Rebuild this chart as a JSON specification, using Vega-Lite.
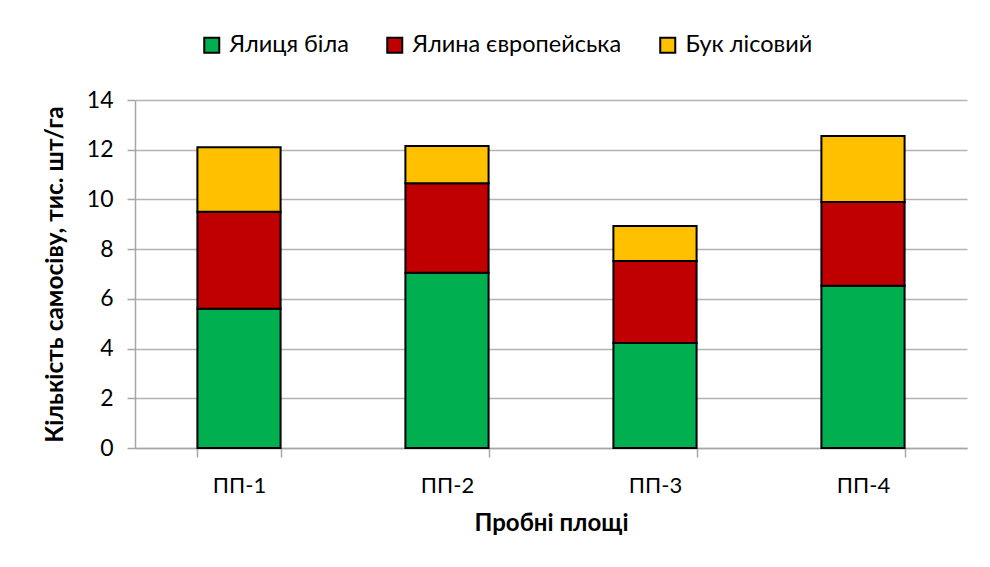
{
  "$schema": "https://vega.github.io/schema/vega-lite/v6.json",
  "autosize": "none",
  "width": 832,
  "height": 348,
  "padding": {"left": 135, "top": 100, "right": 23, "bottom": 119},
  "background": "white",
  "config": {
    "font": "Lato",
    "view": {"stroke": null},
    "axis": {"labelFont": "Lato", "titleFont": "Lato", "labelColor": "#000", "titleColor": "#000"}
  },
  "data": {
    "values": [
      {"plot": "ПП-1", "species": "Ялиця біла", "ord": 1, "value": 5.6},
      {"plot": "ПП-1", "species": "Ялина європейська", "ord": 2, "value": 3.9},
      {"plot": "ПП-1", "species": "Бук лісовий", "ord": 3, "value": 2.6},
      {"plot": "ПП-2", "species": "Ялиця біла", "ord": 1, "value": 7.05},
      {"plot": "ПП-2", "species": "Ялина європейська", "ord": 2, "value": 3.6},
      {"plot": "ПП-2", "species": "Бук лісовий", "ord": 3, "value": 1.5},
      {"plot": "ПП-3", "species": "Ялиця біла", "ord": 1, "value": 4.22},
      {"plot": "ПП-3", "species": "Ялина європейська", "ord": 2, "value": 3.3},
      {"plot": "ПП-3", "species": "Бук лісовий", "ord": 3, "value": 1.41},
      {"plot": "ПП-4", "species": "Ялиця біла", "ord": 1, "value": 6.53},
      {"plot": "ПП-4", "species": "Ялина європейська", "ord": 2, "value": 3.37},
      {"plot": "ПП-4", "species": "Бук лісовий", "ord": 3, "value": 2.65}
    ]
  },
  "mark": {"type": "bar", "stroke": "#000", "strokeWidth": 2},
  "encoding": {
    "x": {
      "field": "plot",
      "type": "nominal",
      "scale": {"paddingInner": 0.6, "paddingOuter": 0.3},
      "axis": {
        "title": "Пробні площі",
        "titleFontSize": 24,
        "titleFontWeight": "bold",
        "titlePadding": 15,
        "labelAngle": 0,
        "labelFontSize": 22,
        "labelPadding": 18,
        "tickBand": "extent",
        "tickSize": 9,
        "tickColor": "#a6a6a6",
        "domainColor": "#a6a6a6",
        "domainWidth": 1.5,
        "tickWidth": 1.5
      }
    },
    "y": {
      "field": "value",
      "type": "quantitative",
      "stack": "zero",
      "scale": {"domain": [0, 14]},
      "axis": {
        "title": "Кількість самосіву, тис. шт/га",
        "titleFontSize": 24.5,
        "titleFontWeight": "bold",
        "titlePadding": 19,
        "values": [0, 2, 4, 6, 8, 10, 12, 14],
        "labelFontSize": 23,
        "labelPadding": 14,
        "tickSize": 8,
        "tickColor": "#a6a6a6",
        "domainColor": "#a6a6a6",
        "domainWidth": 1.5,
        "tickWidth": 1.5,
        "gridColor": "#b3b3b3",
        "gridWidth": 1.5
      }
    },
    "color": {
      "field": "species",
      "type": "nominal",
      "scale": {
        "domain": ["Ялиця біла", "Ялина європейська", "Бук лісовий"],
        "range": ["#00B050", "#C00000", "#FFC000"]
      },
      "legend": {
        "title": null,
        "orient": "none",
        "direction": "horizontal",
        "legendX": 65,
        "legendY": -67,
        "symbolType": "square",
        "symbolSize": 225,
        "symbolStrokeColor": "#000",
        "symbolStrokeWidth": 2,
        "labelFontSize": 23.5,
        "labelOffset": 6,
        "columnPadding": 34,
        "labelLimit": 300
      }
    },
    "order": {"field": "ord", "type": "quantitative", "sort": "ascending"}
  }
}
